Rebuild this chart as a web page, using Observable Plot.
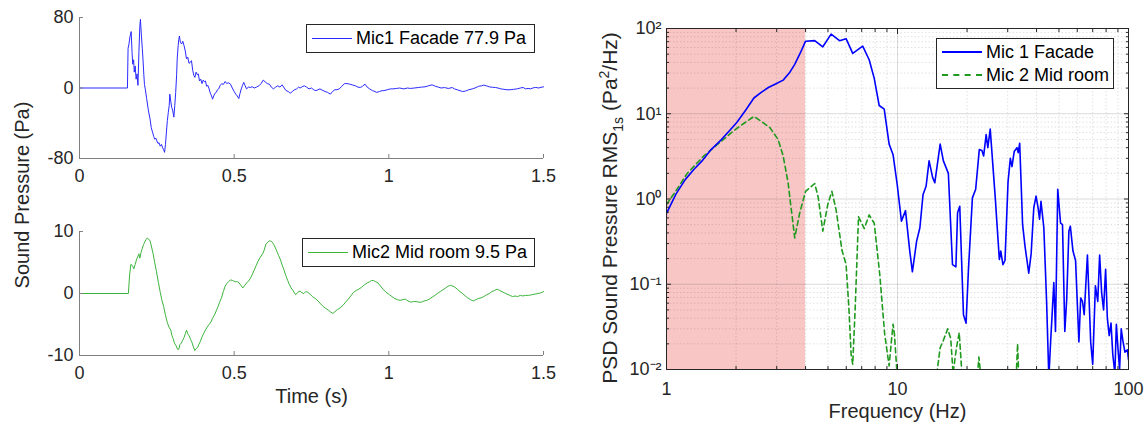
<!DOCTYPE html>
<html>
<head>
<meta charset="utf-8">
<script src="https://cdn.jsdelivr.net/npm/d3@7"></script>
<script src="https://cdn.jsdelivr.net/npm/@observablehq/plot@0.6"></script>
<style>
  body { margin: 0; background: #fff; font-family: "Liberation Sans", Arial, sans-serif; }
  #wrap { position: relative; width: 1146px; height: 432px; overflow: hidden; background: #fff; }
  .panel { position: absolute; }
  .legend { position: absolute; background: #fff; border: 1px solid #262626; box-sizing: border-box;
            font-size: 18px; color: #000; display: flex; flex-direction: column; justify-content: center; }
  .legend .row { display: flex; align-items: center; height: 23px; white-space: nowrap; }
  .legend .sample { display: inline-block; width: 40px; margin: 0 4px 0 5px; height: 0; }
  .ytitle { position: absolute; transform: translate(-50%, -50%) rotate(-90deg); white-space: nowrap;
            font-size: 20px; color: #262626; }
  .ytitle.big { font-size: 21px; }
  .ytitle sub, .ytitle sup { font-size: 14px; }
</style>
</head>
<body>
<div id="wrap"></div>
<script>
// ---------------- data ----------------
const timeTicks = [0, 0.5, 1, 1.5];
const mic1Ticks = [-80, 0, 80];
const mic2Ticks = [-10, 0, 10];
const timeDomain = [0, 1.5];
const mic1Domain = [-80, 80];
const mic2Domain = [-10, 10];

const mic1Label = "Mic1 Facade 77.9 Pa";
const mic2Label = "Mic2 Mid room 9.5 Pa";

const mic1T = [0,0.155,0.157,0.160,0.163,0.167,0.170,0.172,0.175,0.177,0.180,0.183,0.186,0.189,0.192,0.195,0.197,0.200,0.203,0.205,0.208,0.210,0.213,0.217,0.223,0.228,0.232,0.236,0.240,0.243,0.247,0.250,0.254,0.257,0.261,0.265,0.269,0.272,0.275,0.278,0.281,0.284,0.287,0.290,0.292,0.295,0.298,0.301,0.305,0.308,0.311,0.314,0.316,0.319,0.321,0.323,0.326,0.330,0.334,0.338,0.342,0.346,0.350,0.354,0.358,0.362,0.366,0.370,0.373,0.377,0.381,0.384,0.388,0.392,0.396,0.400,0.404,0.407,0.411,0.415,0.419,0.423,0.427,0.430,0.434,0.438,0.442,0.446,0.450,0.455,0.460,0.465,0.471,0.476,0.481,0.488,0.494,0.500,0.505,0.510,0.515,0.519,0.523,0.527,0.531,0.535,0.540,0.546,0.552,0.558,0.565,0.572,0.580,0.587,0.594,0.600,0.607,0.614,0.620,0.627,0.634,0.641,0.648,0.655,0.662,0.668,0.675,0.681,0.688,0.695,0.702,0.708,0.713,0.720,0.727,0.734,0.742,0.750,0.757,0.764,0.771,0.777,0.785,0.794,0.802,0.811,0.818,0.825,0.832,0.840,0.848,0.857,0.865,0.873,0.882,0.892,0.900,0.908,0.915,0.923,0.930,0.938,0.947,0.955,0.961,0.970,0.978,0.984,0.995,1.005,1.013,1.025,1.035,1.048,1.060,1.070,1.082,1.095,1.105,1.117,1.128,1.140,1.150,1.160,1.169,1.180,1.192,1.205,1.212,1.221,1.230,1.238,1.248,1.258,1.270,1.282,1.290,1.300,1.307,1.315,1.325,1.335,1.345,1.353,1.362,1.372,1.382,1.392,1.403,1.415,1.425,1.434,1.442,1.450,1.458,1.467,1.475,1.485,1.492,1.500];
const mic1P = [0,0,45,50,58,64,40,27,32,18,25,10,16,3,40,70,77.9,60,45,34,15,4,-2,-12,-26,-35,-45,-50,-55,-58,-57,-60,-63,-62,-66,-64,-68,-70,-73,-64,-50,-37,-28,-20,-7,-15,-22,-25,-33,-20,-5,15,34,48,55,59,52,50,53,48,42,33,35,28,29,31,20,14,12,18,15,16,8,10,5,9,7,8,2,3,-1,-6,-9,-12.7,-9,-6,-5,-2,-1,3,5,4,7.4,5,6,4.4,0,-4,-7,-9,-12,-6,-1,3,6.3,3,-1,1,0.6,1.5,0,1,2.5,5,9,7,5,4.4,1,-1,1,2.5,1,3.6,0,-3,-4,-6,-4,-2,-1,1,0,1.5,2.5,1,-1,0,-2,-3,-2,-1,-2.5,-4,-5,-7,-4,-2,-2,-1,2,5,5,4.4,3.5,2.5,1,0.6,2,4.4,1,-1,-3,-4,-5,-4,-3,-3,-2,-1,-1,-0.5,0,-1,0,-0.5,0,0.5,1,1.3,2.5,3.6,2,1,0,0.5,-0.5,0.5,-1,-2,-3,-4,-3.5,-2,-1,0.5,1.9,2.5,3.3,2.5,1.3,0.8,0.5,0,-1,-1.5,-2,-2,-1.5,-1,0,0.6,-1,-0.5,-1,0.2,0.6,0,0.8,1.3];

const mic2T = [0,0.158,0.162,0.166,0.171,0.176,0.180,0.184,0.188,0.192,0.195,0.199,0.203,0.207,0.211,0.215,0.219,0.223,0.228,0.233,0.238,0.243,0.249,0.255,0.261,0.266,0.272,0.278,0.284,0.289,0.295,0.299,0.303,0.307,0.312,0.317,0.321,0.325,0.329,0.333,0.338,0.342,0.346,0.350,0.354,0.359,0.363,0.368,0.373,0.377,0.382,0.386,0.390,0.396,0.402,0.407,0.413,0.419,0.425,0.430,0.436,0.442,0.448,0.453,0.459,0.465,0.471,0.476,0.482,0.488,0.494,0.499,0.505,0.511,0.516,0.522,0.528,0.534,0.540,0.546,0.552,0.558,0.565,0.571,0.577,0.584,0.592,0.597,0.603,0.609,0.615,0.621,0.627,0.632,0.638,0.644,0.650,0.655,0.661,0.667,0.673,0.678,0.684,0.690,0.695,0.699,0.706,0.713,0.719,0.725,0.731,0.738,0.745,0.753,0.762,0.771,0.780,0.788,0.796,0.805,0.812,0.819,0.825,0.830,0.834,0.843,0.852,0.860,0.869,0.877,0.886,0.895,0.903,0.912,0.921,0.930,0.938,0.944,0.950,0.958,0.965,0.973,0.981,0.991,1.002,1.010,1.019,1.028,1.036,1.045,1.053,1.062,1.071,1.080,1.088,1.097,1.105,1.114,1.123,1.131,1.140,1.149,1.157,1.166,1.175,1.184,1.192,1.199,1.207,1.214,1.221,1.230,1.238,1.247,1.255,1.264,1.273,1.281,1.290,1.298,1.307,1.316,1.325,1.333,1.342,1.350,1.358,1.366,1.374,1.382,1.391,1.400,1.408,1.416,1.425,1.433,1.442,1.452,1.462,1.472,1.482,1.491,1.500];
const mic2P = [0,0,3,4.7,4.5,4.0,4.7,5.4,5.9,6.4,5.7,6.6,7.3,7.9,8.3,8.7,8.96,8.8,8.5,7.5,6.4,5.0,3.5,1.8,0.2,-1.0,-2.1,-3.5,-4.7,-5.4,-5.9,-6.8,-7.3,-8.0,-8.4,-9.0,-9.0,-8.2,-8.0,-7.6,-7.1,-6.5,-5.9,-6.5,-6.8,-7.4,-7.8,-8.6,-9.2,-8.9,-8.7,-8.2,-7.8,-7.0,-6.4,-5.9,-5.4,-5.0,-4.6,-4.0,-3.5,-2.8,-2.1,-1.4,-0.7,0.3,1.2,1.6,1.9,2.2,2.1,2.0,1.9,1.9,1.7,1.3,0.9,1.3,1.7,2.0,2.4,3.0,3.8,4.5,5.2,5.8,6.4,7.0,8.0,8.3,8.5,8.4,8.0,7.5,6.8,6.1,5.4,4.6,3.8,2.9,2.1,1.5,0.9,0.5,0.1,-0.2,0.2,0.4,0.1,0,0.3,0.2,-0.1,-0.5,-0.8,-1.2,-1.7,-2.1,-2.4,-2.7,-3.0,-3.2,-3.0,-2.7,-2.6,-2.3,-1.9,-1.4,-0.9,-0.4,0.2,0.5,0.7,1.0,1.4,1.7,1.9,2.1,2.1,1.9,1.7,1.2,0.7,0.2,-0.2,-0.5,-0.8,-1.0,-1.1,-1.0,-0.9,-1.2,-1.4,-1.3,-1.3,-1.4,-1.4,-1.2,-1.1,-0.9,-0.6,-0.3,0,0.3,0.6,0.9,1.2,1.3,1.2,1.0,0.7,0.3,0,-0.4,-0.7,-1.0,-1.2,-1.0,-0.8,-0.7,-0.5,-0.2,0,0.3,0.5,0.7,0.5,0.3,0.1,-0.1,-0.3,-0.5,-0.4,-0.5,-0.3,-0.4,-0.3,-0.3,-0.2,-0.1,0,0.1,0.3];

// PSD panel
const freqDomain = [1, 100];
const psdDomain = [0.01, 100];
const freqMajor = [1, 10, 100];
const freqMinor = [2,3,4,5,6,7,8,9,20,30,40,50,60,70,80,90];
const psdMajor = [0.01, 0.1, 1, 10, 100];
const psdMajorLabels = ["10\u207B\u00B2", "10\u207B\u00B9", "10\u2070", "10\u00B9", "10\u00B2"];
const psdMinor = [0.02,0.03,0.04,0.05,0.06,0.07,0.08,0.09,0.2,0.3,0.4,0.5,0.6,0.7,0.8,0.9,2,3,4,5,6,7,8,9,20,30,40,50,60,70,80,90];
const shadeBand = [1, 4];
const seriesNames = ["Mic 1 Facade", "Mic 2 Mid room"];

const psd1F = [1,1.1,1.207,1.31,1.425,1.56,1.706,1.86,2.015,2.2,2.39,2.57,2.76,2.98,3.2,3.4,3.59,3.8,4.0,4.38,4.75,5.16,5.61,5.99,6.4,7.07,7.54,7.93,8.33,8.76,9.2,9.57,9.97,10.4,10.83,11.3,11.6,12.1,12.5,12.9,13.3,13.7,14.2,14.5,15.3,15.8,16.6,17.3,17.9,18.2,18.6,19.3,19.8,20.3,21.1,21.8,22.6,23.2,23.6,24.2,24.6,25.2,26.5,27.6,28.0,28.6,29.2,30.1,30.8,31.3,32,32.9,33.3,33.8,34.8,35.7,37,37.9,38.9,39.8,40.6,41.2,41.8,43,44.2,45.2,46,46.7,47.5,48.3,49.4,50.8,51.8,53,54,55.2,56,57.5,59,61,62.1,63.2,64.3,66.4,68.6,70,71.9,73.6,75,76.5,78,79.6,81,82.5,84,85.5,87.3,88.6,90,91.5,93,94.5,96.5,98.9,100];
const psd1P = [0.68,1.15,1.7,2.2,2.8,3.8,4.8,6.2,7.9,11,15.3,17.8,20.3,22.5,24.8,30,38,52,71,72,61,86,72,76,51,62,43,26,12.5,11.3,4.4,3.3,1.48,0.55,0.73,0.245,0.14,0.32,0.46,1.13,1.41,2.8,1.78,1.55,4.4,2.8,2.0,0.17,0.16,0.69,0.82,0.044,0.035,0.155,1.03,1.3,3.8,3.7,3.2,5.7,4.0,6.6,1.03,0.195,0.245,0.17,0.19,1.6,3.0,2.4,3.6,4.0,3.5,4.5,0.5,0.27,0.135,0.23,0.79,1.08,0.79,0.58,0.94,0.46,0.063,0.008,0.021,0.044,0.105,0.028,1.3,0.52,0.5,0.028,0.066,0.42,0.48,0.245,0.19,0.021,0.069,0.063,0.044,0.22,0.021,0.0115,0.096,0.063,0.22,0.08,0.05,0.15,0.04,0.025,0.035,0.015,0.009,0.034,0.018,0.01,0.03,0.022,0.016,0.017,0.013];

const psd2F = [1,1.11,1.23,1.45,1.65,1.95,2.19,2.39,2.58,2.8,3.04,3.2,3.36,3.47,3.59,3.77,4.0,4.38,4.53,4.75,4.99,5.2,5.42,5.75,5.99,6.16,6.3,6.4,6.56,6.78,7.18,7.54,7.93,8.38,8.8,9.2,9.4,9.57,9.7,9.95,10.5,14,14.8,15.3,15.8,16.5,17,17.4,18,18.5,19,20,22,22.5,22.9,24,32.5,33.1,33.5,35,100];
const psd2P = [0.86,1.3,2.0,3.2,4.3,6.3,7.9,9.3,8.1,6.9,5.0,3.2,1.55,0.75,0.35,0.68,1.23,1.52,1.07,0.42,0.86,1.23,0.75,0.25,0.17,0.053,0.015,0.0115,0.053,0.62,0.45,0.65,0.52,0.13,0.026,0.011,0.021,0.034,0.026,0.009,0.003,0.003,0.009,0.018,0.022,0.030,0.023,0.009,0.018,0.027,0.009,0.003,0.006,0.014,0.009,0.003,0.006,0.02,0.008,0.003,0.003];

// ---------------- styles ----------------
const FONT = '"Liberation Sans", Arial, sans-serif';
const AX = "#808080";
const TXT = "#262626";
const BLUE_T = "#2a2aff";
const GREEN_T = "#3cb43c";
const BLUE = "#0000ff";
const GREEN = "#1f9a1f";
const TICK_FS = 18;
const TITLE_FS = 20;
const blank = () => "";

const wrap = document.getElementById("wrap");

function place(el, left, top) {
  el.classList.add("panel");
  el.style.left = left + "px";
  el.style.top = top + "px";
  wrap.appendChild(el);
}

function timePlot(T, P, yDomain, yTicks, color, height, marginBottom, extra) {
  const data = T.map((t, i) => ({t, p: P[i]}));
  return Plot.plot({
    width: 560, height, marginLeft: 79, marginRight: 17, marginTop: 17, marginBottom,
    style: {fontFamily: FONT, fontSize: "15px", color: TXT, background: "transparent", overflow: "visible"},
    x: {domain: timeDomain, label: null},
    y: {domain: yDomain, label: null},
    marks: [
      Plot.line(data, {x: "t", y: "p", stroke: color, strokeWidth: 1}),
      Plot.ruleX([timeDomain[0]], {stroke: AX}),
      Plot.ruleY([yDomain[0]], {stroke: AX}),
      Plot.axisX(timeTicks, {anchor: "bottom", tickSize: -4, stroke: AX, tickFormat: blank, label: null}),
      Plot.axisY(yTicks, {anchor: "left", tickSize: -4, stroke: AX, tickFormat: blank, label: null}),
      Plot.axisX(timeTicks, {anchor: "bottom", tickSize: 0, tickPadding: 11, tickFormat: d => String(d), fill: TXT, fontSize: TICK_FS, label: null}),
      Plot.axisY(yTicks, {anchor: "left", tickSize: 0, tickPadding: 6, tickFormat: d => String(d), fill: TXT, fontSize: TICK_FS, label: null}),
      ...(extra || [])
    ]
  });
}

// top-left
const p1 = timePlot(mic1T, mic1P, mic1Domain, mic1Ticks, BLUE_T, 200, 42);
place(p1, 0, 0);

// bottom-left
const p2 = timePlot(mic2T, mic2P, mic2Domain, mic2Ticks, GREEN_T, 218, 77, [
  Plot.text(["Time (s)"], {frameAnchor: "bottom", dy: 47, fontSize: TITLE_FS, fill: TXT})
]);
place(p2, 0, 214);

// right PSD
const psd1 = psd1F.map((f, i) => ({f, p: psd1P[i]}));
const psd2 = psd2F.map((f, i) => ({f, p: psd2P[i]}));
const shade = [{x1: shadeBand[0], x2: shadeBand[1], y1: psdDomain[0], y2: psdDomain[1]}];
const p3 = Plot.plot({
  width: 566, height: 432, marginLeft: 86, marginRight: 18, marginTop: 28, marginBottom: 63,
  style: {fontFamily: FONT, fontSize: "15px", color: TXT, background: "transparent", overflow: "visible"},
  x: {type: "log", domain: freqDomain, label: null},
  y: {type: "log", domain: psdDomain, label: null},
  marks: [
    Plot.rect(shade, {x1: "x1", x2: "x2", y1: "y1", y2: "y2", fill: "#f9c6c6"}),
    Plot.gridX(freqMinor, {stroke: "#000", strokeOpacity: 0.12, strokeDasharray: "1.5,2"}),
    Plot.gridY(psdMinor, {stroke: "#000", strokeOpacity: 0.12, strokeDasharray: "1.5,2"}),
    Plot.gridX(freqMajor, {stroke: "#000", strokeOpacity: 0.14}),
    Plot.gridY(psdMajor, {stroke: "#000", strokeOpacity: 0.14}),
    Plot.line(psd2, {x: "f", y: "p", stroke: GREEN, strokeWidth: 1.6, strokeDasharray: "5,3.5", clip: true}),
    Plot.line(psd1, {x: "f", y: "p", stroke: BLUE, strokeWidth: 1.6, clip: true}),
    Plot.frame({stroke: TXT}),
    Plot.axisX(freqMajor, {anchor: "bottom", tickSize: -5, stroke: TXT, tickFormat: blank, label: null}),
    Plot.axisX(freqMinor, {anchor: "bottom", tickSize: -3, stroke: TXT, tickFormat: blank, label: null}),
    Plot.axisX(freqMajor, {anchor: "top", tickSize: -5, stroke: TXT, tickFormat: blank, label: null}),
    Plot.axisX(freqMinor, {anchor: "top", tickSize: -3, stroke: TXT, tickFormat: blank, label: null}),
    Plot.axisY(psdMajor, {anchor: "left", tickSize: -5, stroke: TXT, tickFormat: blank, label: null}),
    Plot.axisY(psdMinor, {anchor: "left", tickSize: -3, stroke: TXT, tickFormat: blank, label: null}),
    Plot.axisY(psdMajor, {anchor: "right", tickSize: -5, stroke: TXT, tickFormat: blank, label: null}),
    Plot.axisY(psdMinor, {anchor: "right", tickSize: -3, stroke: TXT, tickFormat: blank, label: null}),
    Plot.axisX(freqMajor, {anchor: "bottom", tickSize: 0, tickPadding: 13, tickFormat: d => String(d), fill: TXT, fontSize: TICK_FS, label: null}),
    Plot.axisY(psdMajor, {anchor: "left", tickSize: 0, tickPadding: 5, tickFormat: d => psdMajorLabels[psdMajor.indexOf(d)], fill: TXT, fontSize: TICK_FS, label: null}),
    Plot.text(["Frequency (Hz)"], {frameAnchor: "bottom", dy: 48, fontSize: TITLE_FS, fill: TXT})
  ]
});
place(p3, 580, 0);

// y titles
function ytitle(html, cx, cy, cls) {
  const d = document.createElement("div");
  d.className = "ytitle" + (cls ? " " + cls : "");
  d.innerHTML = html;
  d.style.left = cx + "px";
  d.style.top = cy + "px";
  wrap.appendChild(d);
}
ytitle("Sound Pressure (Pa)", 22, 195);
ytitle("PSD Sound Pressure RMS<sub>1s</sub> (Pa<sup>2</sup>/Hz)", 611, 208, "big");

// legends
function legend(items, left, top, width, height) {
  const d = document.createElement("div");
  d.className = "legend";
  Object.assign(d.style, {left: left + "px", top: top + "px", width: width + "px", height: height + "px"});
  for (const it of items) {
    const r = document.createElement("div");
    r.className = "row";
    const s = document.createElement("span");
    s.className = "sample";
    s.style.borderTop = `${it.w}px ${it.dash ? "dashed" : "solid"} ${it.color}`;
    r.appendChild(s);
    const t = document.createElement("span");
    t.textContent = it.label;
    r.appendChild(t);
    d.appendChild(r);
  }
  wrap.appendChild(d);
}
legend([{label: mic1Label, color: BLUE_T, w: 1}], 306, 24, 229, 29);
legend([{label: mic2Label, color: GREEN_T, w: 1}], 302, 238, 233, 29);
legend([{label: seriesNames[0], color: BLUE, w: 2}, {label: seriesNames[1], color: GREEN, w: 2, dash: true}], 936, 38, 178, 51);
</script>
</body>
</html>
